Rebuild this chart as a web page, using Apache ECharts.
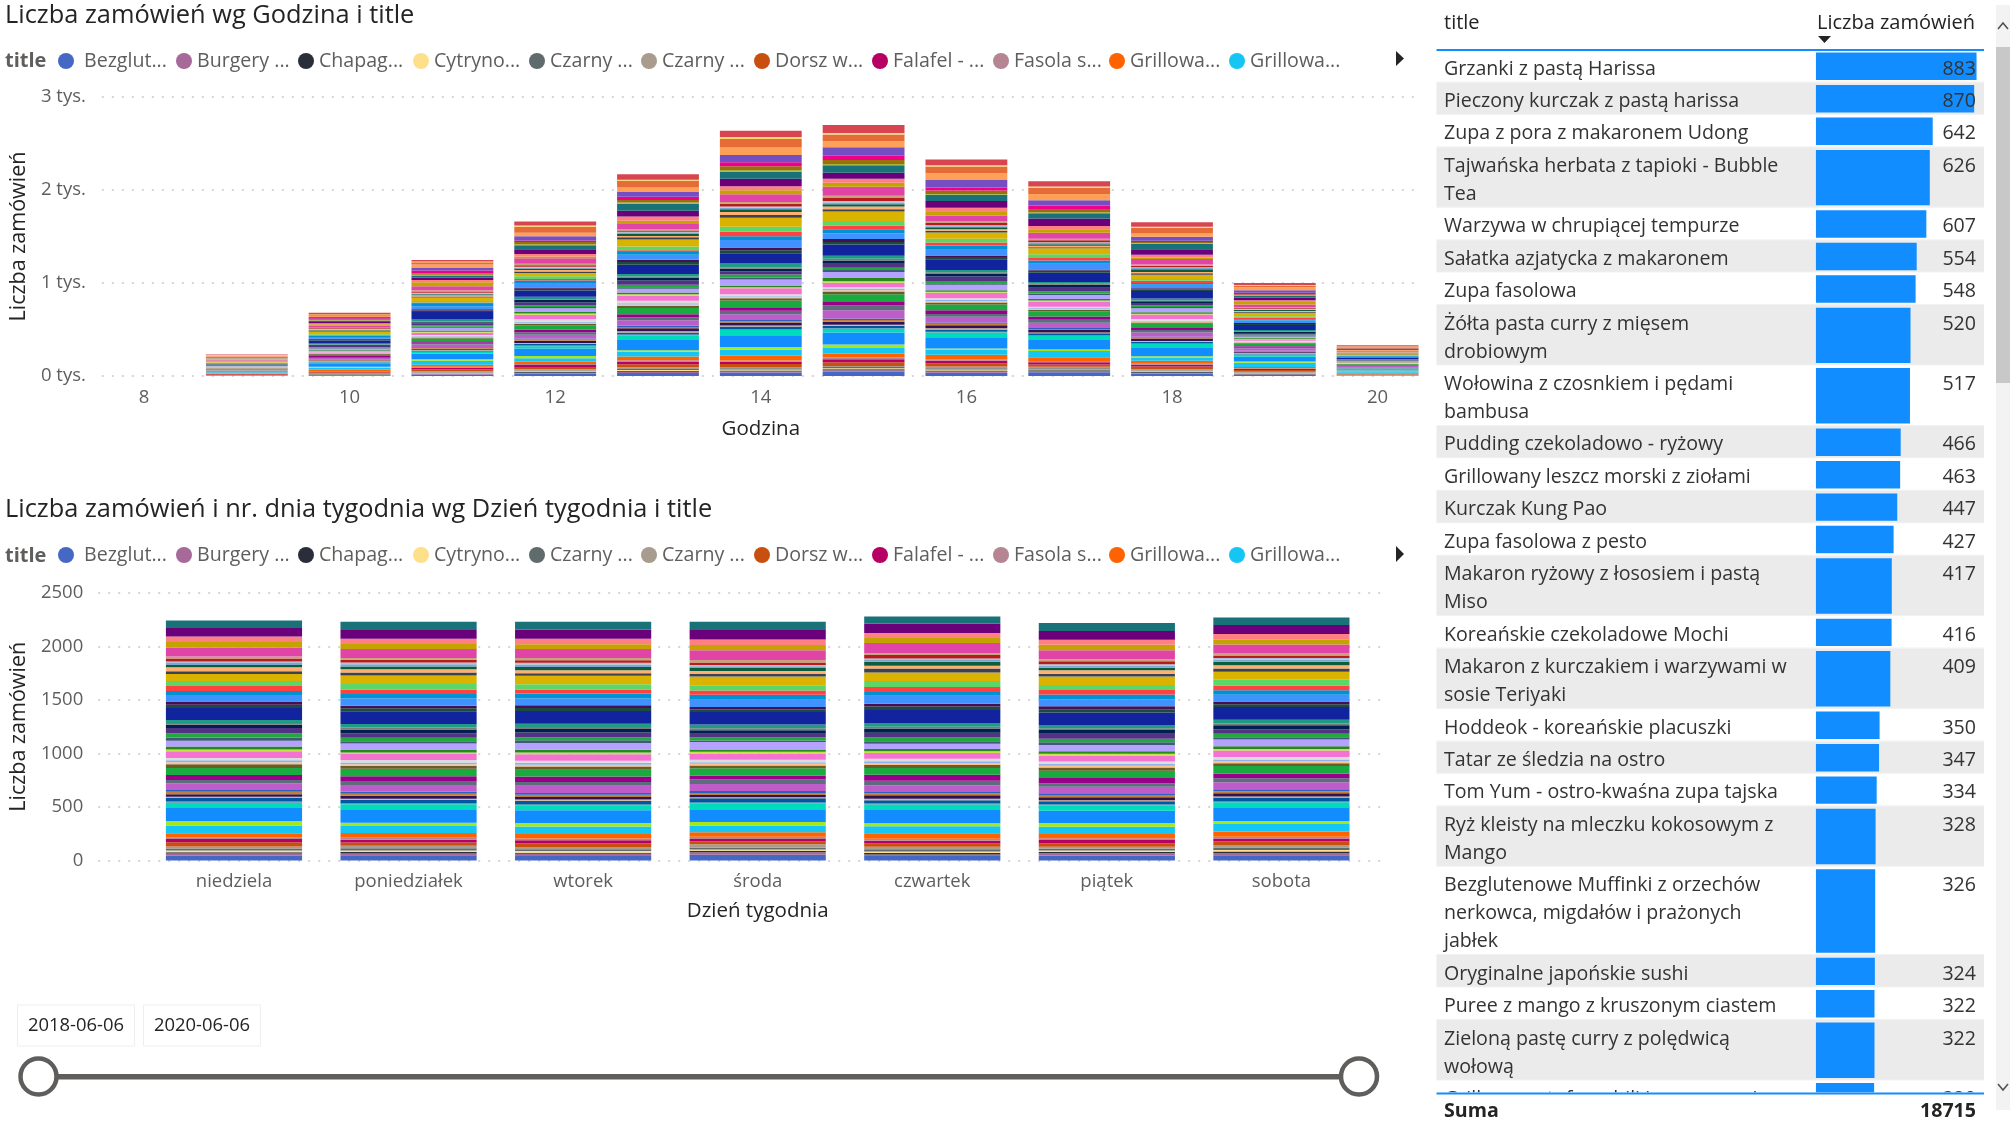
<!DOCTYPE html>
<html><head><meta charset="utf-8">
<style>html,body{margin:0;padding:0;background:#fff}#c{width:2010px;height:1130px}</style>
<script src="https://cdn.jsdelivr.net/npm/echarts@6/dist/echarts.min.js"></script>
</head><body><div id="c"></div>
<script>
const hourLabels = ['8','9','10','11','12','13','14','15','16','17','18','19','20'];
const dayLabels = ['niedziela','poniedziałek','wtorek','środa','czwartek','piątek','sobota'];
const legendLabels = ['Bezglut...','Burgery ...','Chapag...','Cytryno...','Czarny ...','Czarny ...','Dorsz w...','Falafel - ...','Fasola s...','Grillowa...','Grillowa...'];
const seriesColors = ['#4668C5','#A66999','#2A2E3B','#FEE08B','#5F6B6D','#A79C8D','#C94F0F','#B60064','#B58594','#FF6300','#15C6F4','#A4E81C','#118DFF','#00DBBC','#5B8FB0','#0057A2','#D9B38C','#34124F','#C0803C','#2B62C0','#BE5DC9','#5D6D7E','#99008A','#1AAB40','#6B5B25','#FFC08A','#8AB4F0','#DCDCDC','#F472D0','#C5E04A','#25891C','#B5A1FF','#3E5C76','#22A83F','#533285','#002050','#7A7A7A','#1F9A85','#12239E','#1B4B3E','#450F54','#4092FF','#0091D5','#FF4141','#5BD667','#D9B300','#3B4252','#FFB070','#0B5D3B','#7AA8D0','#B0C0D8','#B71C1C','#C8A27A','#E044A7','#C4A200','#FF8080','#6B007B','#197278','#A8B040','#99700A','#EC008C','#744EC2','#FFA058','#E66C37','#F5D76E','#D64550'];
const seriesNames = seriesColors.map(function(c,i){return 'Danie '+(i+1);});
const hourValues = [
[0,8,16,25,33,37,47,34,41,26,13,3],[2,4,6,9,12,11,14,14,11,9,6,3],[0,3,6,8,9,10,11,11,9,8,5,3],[2,3,6,8,10,11,11,10,10,8,5,1],[2,4,7,10,12,14,14,14,12,9,6,3],[2,5,10,12,18,14,11,18,16,13,11,4],
[10,14,22,25,32,33,40,33,25,30,18,7],[3,8,16,20,29,23,32,29,25,17,10,4],[3,6,10,12,15,14,18,16,12,11,8,3],[4,12,22,25,40,52,43,49,41,34,15,4],[7,23,44,36,52,63,61,57,66,34,45,17],[3,9,16,25,15,30,36,10,16,13,14,6],
[9,37,60,81,119,126,130,123,102,90,50,14],[3,9,16,25,40,56,40,49,45,42,23,6],[2,4,6,8,9,8,6,8,8,6,5,1],[3,6,10,16,24,30,25,25,20,17,9,4],[3,5,8,10,12,11,12,13,10,9,6,3],[1,6,12,25,32,33,32,33,25,26,8,3],
[3,6,9,12,15,14,20,16,12,11,8,3],[3,5,8,10,12,11,14,13,10,9,6,3],[5,16,28,41,59,63,90,62,57,47,28,13],[4,11,20,28,32,37,50,29,33,26,18,7],[3,11,16,28,32,37,47,41,33,21,14,4],[3,14,28,45,67,74,75,62,57,47,18,7],
[3,9,13,16,24,23,29,21,16,13,9,4],[3,5,9,12,15,11,14,13,10,9,6,3],[3,5,8,10,12,11,18,13,10,8,5,3],[3,6,10,28,28,23,14,21,12,21,11,4],[5,11,24,49,55,63,50,57,57,47,14,6],[2,5,10,12,15,10,14,13,10,8,6,3],
[3,8,12,16,20,14,36,16,16,17,11,4],[5,19,32,41,40,70,65,57,45,42,14,6],[3,7,10,14,15,21,20,16,16,13,9,4],[3,9,16,16,28,33,25,25,20,17,11,4],[3,11,20,33,44,33,50,49,41,26,18,6],[1,9,13,25,32,30,29,33,33,21,11,4],
[3,5,8,10,12,14,18,13,10,8,6,3],[3,11,20,25,28,41,32,25,20,21,14,4],[4,33,80,68,99,111,120,114,97,80,54,9],[1,9,16,20,28,33,29,25,25,17,11,4],[1,9,16,12,24,30,32,16,12,13,10,4],[4,19,32,41,55,80,61,70,61,38,28,7],
[3,11,24,36,28,41,43,36,36,17,14,6],[3,9,16,16,20,48,40,33,25,26,18,4],[3,11,16,28,40,52,50,41,41,17,14,4],[5,23,36,36,75,97,100,66,66,47,37,12],[1,8,12,16,24,30,25,21,10,17,10,4],[4,8,12,16,15,33,29,16,16,13,10,4],
[1,7,12,16,20,30,25,21,16,30,10,3],[3,5,9,10,12,14,18,10,12,11,6,3],[3,5,8,10,12,14,18,10,10,9,6,3],[3,7,12,16,15,30,36,25,20,17,8,3],[6,7,13,16,15,19,18,16,16,13,10,4],[6,23,44,57,55,84,97,66,66,59,28,9],
[4,14,44,20,35,41,43,36,36,17,28,7],[9,9,24,28,44,44,43,46,36,30,18,6],[1,14,24,49,64,81,65,74,81,59,28,7],[4,14,24,45,75,74,80,66,57,59,23,4],[3,5,9,10,12,19,14,9,10,8,6,3],[4,8,16,25,28,41,43,36,36,11,9,4],
[5,14,28,16,35,44,47,33,36,13,14,4],[3,14,32,45,55,78,90,86,57,42,28,4],[7,14,32,36,44,81,65,66,66,34,32,6],[7,14,24,66,72,90,72,74,66,64,18,6],[4,5,8,14,12,22,18,14,16,11,6,3],[7,11,16,41,59,67,86,62,57,47,23,9]
];
const dayValues = [
[44,48,42,53,41,46,50],[22,18,20,25,16,22,19],[12,14,11,12,13,12,14],[16,13,15,12,14,13,16],[19,21,17,18,20,16,22],[19,24,22,32,25,20,23],
[38,30,34,25,31,33,35],[31,27,29,25,25,30,26],[16,18,15,19,19,16,18],[38,45,42,44,50,39,47],[72,65,70,63,66,68,70],[41,30,34,31,28,36,30],
[122,120,118,119,125,115,120],[50,53,48,56,50,47,54],[15,10,12,9,10,12,11],[28,32,30,38,31,29,33],[12,10,11,9,12,10,11],[25,28,24,22,34,26,30],
[22,19,20,19,16,21,18],[16,20,18,19,22,17,20],[63,60,66,66,56,62,65],[31,38,36,44,41,33,37],[47,44,50,34,56,48,42],[66,70,64,69,63,68,72],
[34,26,30,25,28,31,27],[19,17,18,16,19,16,18],[19,16,17,15,16,18,17],[22,24,20,22,25,21,23],[63,55,60,59,53,57,61],[16,14,17,16,16,15,14],
[28,24,26,22,22,25,24],[53,60,62,69,47,58,63],[31,22,25,15,25,26,22],[38,32,30,28,34,31,33],[50,42,44,34,44,47,40],[31,36,33,34,41,35,38],
[16,19,17,19,16,18,17],[28,32,30,34,34,29,36],[112,120,120,116,122,118,118],[31,26,28,25,34,29,27],[31,25,27,22,25,28,24],[59,68,63,69,75,66,65],
[38,42,45,47,34,44,40],[47,40,38,38,47,42,45],[47,52,50,50,56,48,54],[66,80,79,81,80,78,76],[25,28,24,25,38,26,30],[38,30,28,28,25,32,29],
[19,27,30,31,38,24,34],[19,20,22,13,15,18,18],[15,16,17,12,16,15,16],[28,26,24,22,31,27,25],[19,17,20,25,16,19,18],[81,83,84,91,96,86,84],
[53,48,46,47,47,50,45],[53,48,50,53,47,46,52],[79,82,88,88,88,84,84],[70,78,72,78,66,74,70]
];
const rowNames = ['Grzanki z pastą Harissa','Pieczony kurczak z pastą harissa','Zupa z pora z makaronem Udong','Tajwańska herbata z tapioki - Bubble\nTea','Warzywa w chrupiącej tempurze','Sałatka azjatycka z makaronem','Zupa fasolowa','Żółta pasta curry z mięsem\ndrobiowym','Wołowina z czosnkiem i pędami\nbambusa','Pudding czekoladowo - ryżowy','Grillowany leszcz morski z ziołami','Kurczak Kung Pao','Zupa fasolowa z pesto','Makaron ryżowy z łososiem i pastą\nMiso','Koreańskie czekoladowe Mochi','Makaron z kurczakiem i warzywami w\nsosie Teriyaki','Hoddeok - koreańskie placuszki','Tatar ze śledzia na ostro','Tom Yum - ostro-kwaśna zupa tajska','Ryż kleisty na mleczku kokosowym z\nMango','Bezglutenowe Muffinki z orzechów\nnerkowca, migdałów i prażonych\njabłek','Oryginalne japońskie sushi','Puree z mango z kruszonym ciastem','Zieloną pastę curry z polędwicą\nwołową','Grillowane tofu z chili i warzywami'];
const rowValues = [883,870,642,626,607,554,548,520,517,466,463,447,427,417,416,409,350,347,334,328,326,324,322,322,320];
const totalValue = 18715;

const FONT = '"Open Sans", "Noto Sans", sans-serif';
const legendDots = [66,184,306,421,537,649,762,880,1001,1117,1237];
const lineH = 27.98, rowPad = 4.46;
const rowPadU = rowPad/lineH;
let cum = 0;
const rowData = rowNames.map(function(n,i){
  const lines = n.split('\n').length;
  const start = cum; cum += lines + rowPadU;
  return [rowValues[i], start, cum, i];
});
const gridLine = {show:true,lineStyle:{type:[2,8],color:'#c8c8c8',width:1.5}};
const labelStyle = {color:'#605E5C',fontFamily:FONT,fontSize:18.5};
const nameStyle = {color:'#252423',fontFamily:FONT,fontSize:20.5};
const yNameStyle = {color:'#252423',fontFamily:FONT,fontSize:21.5};

const grids = [
 {left:98,width:1323,top:97,height:279},
 {left:92.6,width:1336.4,top:97,height:279},
 {left:95,width:1291,top:593,height:267.5},
 {left:146.7,width:1222,top:593,height:267.5},
 {left:1436.5,width:547.5,top:50,height:1042.5}
];
const hidden = {show:false};
const xAxes = [
 Object.assign({type:'category',gridIndex:0,data:hourLabels},hidden),
 {type:'category',gridIndex:1,data:hourLabels,axisLine:{show:false},axisTick:{show:false},axisLabel:Object.assign({interval:1,margin:12},labelStyle),name:'Godzina',nameLocation:'middle',nameGap:43,nameTextStyle:nameStyle},
 Object.assign({type:'category',gridIndex:2,data:dayLabels},hidden),
 {type:'category',gridIndex:3,data:dayLabels,axisLine:{show:false},axisTick:{show:false},axisLabel:Object.assign({interval:0,margin:12},labelStyle),name:'Dzień tygodnia',nameLocation:'middle',nameGap:40,nameTextStyle:nameStyle},
 {type:'value',gridIndex:4,show:false,min:-2086,max:924}
];
const yAxes = [
 {type:'value',gridIndex:0,min:0,max:3000,interval:1000,splitLine:gridLine,axisLine:{show:false},axisTick:{show:false},axisLabel:Object.assign({margin:16,formatter:function(v){return (v/1000)+' tys.';}},labelStyle),name:'Liczba zamówień',nameLocation:'middle',nameGap:71,nameTextStyle:yNameStyle},
 {type:'value',gridIndex:1,min:0,max:3000,show:false,splitLine:{show:false}},
 {type:'value',gridIndex:2,min:0,max:2500,interval:500,splitLine:gridLine,axisLine:{show:false},axisTick:{show:false},axisLabel:Object.assign({margin:15,formatter:function(v){return String(v);}},labelStyle),name:'Liczba zamówień',nameLocation:'middle',nameGap:68,nameTextStyle:yNameStyle},
 {type:'value',gridIndex:3,min:0,max:2500,show:false,splitLine:{show:false}},
 {type:'value',gridIndex:4,show:false,inverse:true,min:0,max:1042.5/lineH}
];
const series = [];
seriesNames.forEach(function(n,i){
  series.push({type:'bar',name:n,stack:'h',xAxisIndex:1,yAxisIndex:1,barWidth:'79.6%',itemStyle:{color:seriesColors[i]},data:[null].concat(hourValues[i]),animation:false,silent:true});
  if(dayValues[i]) series.push({type:'bar',name:n,stack:'d',xAxisIndex:3,yAxisIndex:3,barWidth:'78%',itemStyle:{color:seriesColors[i]},data:dayValues[i],animation:false,silent:true});
});
series.push({type:'custom',name:'tabela',xAxisIndex:4,yAxisIndex:4,clip:true,animation:false,silent:true,
 encode:{x:0,y:1},data:rowData,
 renderItem:function(params,api){
  const v=api.value(0),s=api.value(1),e=api.value(2),i=api.value(3);
  const L=params.coordSys.x,R=L+params.coordSys.width;
  const y0=api.coord([0,s])[1],y1=api.coord([0,e])[1];
  const x0=api.coord([0,s])[0],x1=api.coord([v,s])[0];
  const kids=[];
  kids.push({type:'rect',shape:{x:L,y:y0,width:R-L,height:y1-y0},style:{fill:i%2?'#EBEBEB':'#FFFFFF'}});
  kids.push({type:'rect',shape:{x:L,y:y1-1,width:R-L,height:1},style:{fill:'#F2F2F2'}});
  kids.push({type:'rect',shape:{x:x0,y:y0+2.6,width:x1-x0,height:y1-y0-5},style:{fill:'#118DFF'}});
  rowNames[i].split('\n').forEach(function(t,k){
   kids.push({type:'text',style:{text:t,x:1444,y:y0+19+k*lineH,fill:'#333333',font:'19.6px '+FONT,textAlign:'left',textVerticalAlign:'middle'}});
  });
  kids.push({type:'text',style:{text:String(v),x:1976,y:y0+19,fill:'#333333',font:'19.6px '+FONT,textAlign:'right',textVerticalAlign:'middle'}});
  return {type:'group',children:kids};
 }});

function legendsFor(top){
 return legendDots.map(function(cx,i){
  return {show:true,left:cx-8,top:top,padding:0,itemWidth:16,itemHeight:16,icon:'circle',selectedMode:false,data:[seriesNames[i]],
   formatter:function(){return legendLabels[i];},
   textStyle:{color:'#605E5C',fontFamily:FONT,fontSize:19.6,padding:i==0?[0,0,0,5]:0}};
 });
}
function T(text,x,y,size,color,opt){
 return {type:'text',z:100,style:Object.assign({text:text,x:x,y:y,fill:color,font:size+'px '+FONT,textAlign:'left',textVerticalAlign:'middle'},opt||{})};
}
function R(x,y,w,h,fill,stroke){
 return {type:'rect',z:99,shape:{x:x,y:y,width:w,height:h},style:{fill:fill,stroke:stroke||null}};
}
function Tri(pts,fill){return {type:'polygon',z:100,shape:{points:pts},style:{fill:fill}};}
const graphics = [
 T('title',5,61,20,'#605E5C',{font:'bold 20px '+FONT}),
 T('title',5,556,20,'#605E5C',{font:'bold 20px '+FONT}),
 Tri([[1396,51],[1396,66],[1404,58.5]],'#252423'),
 Tri([[1396,546],[1396,562],[1404,554]],'#252423'),
 T('title',1444,23,20,'#252423'),
 T('Liczba zamówień',1817,23,20,'#252423'),
 Tri([[1818,36],[1831,36],[1824.5,43]],'#252423'),
 R(1436.5,49,547.5,2,'#118DFF'),
 R(1436.5,1092.5,547.5,37.5,'#FFFFFF'),
 R(1436.5,1092.5,547.5,2,'#118DFF'),
 T('Suma',1444,1111,19.6,'#252423',{font:'bold 19.6px '+FONT}),
 T(String(totalValue),1976,1111,19.6,'#252423',{font:'bold 19.6px '+FONT,textAlign:'right'}),
 R(1996,5,14,1105,'#F3F3F3'),
 R(1996,47,14,336,'#C8C8C8'),
 {type:'polyline',z:100,shape:{points:[[1998,29],[2003,23],[2008,29]]},style:{stroke:'#505050',fill:null,lineWidth:1.5}},
 {type:'polyline',z:100,shape:{points:[[1998,1084],[2003,1090],[2008,1084]]},style:{stroke:'#505050',fill:null,lineWidth:1.5}},
 R(17.5,1005,117,41,'#FFFFFF','#EEEEEE'),
 R(143.5,1005,117,41,'#FFFFFF','#EEEEEE'),
 T('2018-06-06',76,1026,18.4,'#252423',{textAlign:'center'}),
 T('2020-06-06',202,1026,18.4,'#252423',{textAlign:'center'}),
 R(57,1074,1282,5.5,'#605E5C'),
 {type:'circle',z:100,shape:{cx:38.5,cy:1076.5,r:18},style:{fill:'#FFFFFF',stroke:'#605E5C',lineWidth:4.5}},
 {type:'circle',z:100,shape:{cx:1359,cy:1076.5,r:18},style:{fill:'#FFFFFF',stroke:'#605E5C',lineWidth:4.5}}
];
const chart = echarts.init(document.getElementById('c'),null,{renderer:'canvas'});
chart.setOption({
 animation:false,
 backgroundColor:'#fff',
 title:[
  {text:'Liczba zamówień wg Godzina i title',left:5,top:3,padding:0,textStyle:{fontFamily:FONT,fontWeight:'normal',fontSize:25.4,color:'#252423'}},
  {text:'Liczba zamówień i nr. dnia tygodnia wg Dzień tygodnia i title',left:5,top:497,padding:0,textStyle:{fontFamily:FONT,fontWeight:'normal',fontSize:25.4,color:'#252423'}}
 ],
 grid:grids,xAxis:xAxes,yAxis:yAxes,
 legend:legendsFor(51).concat(legendsFor(545)),
 tooltip:{show:false},
 series:series,
 graphic:graphics
});
</script></body></html>
